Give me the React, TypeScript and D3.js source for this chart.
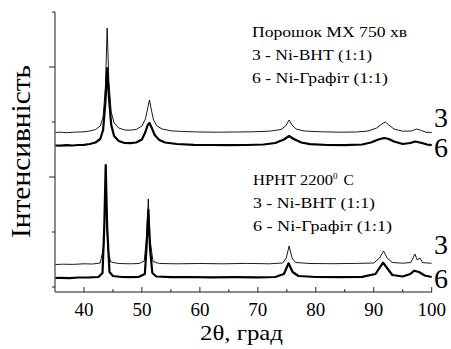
import { useEffect, useRef } from "react";
import * as d3 from "d3";

// x-axis (2θ) ticks
const xTicksMajor = [40, 50, 60, 70, 80, 90, 100];
const xTicksMinor = [45, 55, 65, 75, 85, 95];
// y ticks (arb. units, no labels)
const yTicksMajor = [1100, 2200];
const yTicksMinor = [0, 550, 1650, 2750];

// Порошок МХ 750 хв, 3 - Ni-ВНТ
const mx3 = [
  [35, 1545], [36, 1548], [37, 1543], [38, 1547], [39, 1550], [40, 1552], [41, 1560],
  [42, 1575], [42.8, 1610], [43.3, 1700], [43.7, 2000], [44.0, 2590], [44.3, 2050],
  [44.7, 1750], [45.2, 1640], [46, 1590], [47, 1570], [48, 1568], [49, 1575], [50, 1610],
  [50.6, 1680], [51.0, 1790], [51.3, 1870], [51.6, 1780], [52.0, 1670], [52.6, 1610],
  [53.5, 1580], [55, 1562], [57, 1555], [60, 1550], [63, 1548], [66, 1550], [69, 1552],
  [72, 1558], [74, 1575], [74.8, 1610], [75.4, 1670], [75.9, 1620], [76.6, 1580],
  [78, 1560], [81, 1552], [84, 1548], [87, 1550], [89, 1560], [90.5, 1590], [91.4, 1630],
  [92.0, 1650], [92.6, 1620], [93.5, 1580], [95, 1558], [96.5, 1560], [97.4, 1580],
  [98.2, 1565], [99, 1548], [100, 1545],
];
// Порошок МХ 750 хв, 6 - Ni-Графіт
const mx6 = [
  [35, 1415], [36, 1413], [37, 1418], [38, 1415], [39, 1420], [40, 1422], [41, 1430],
  [42, 1445], [42.8, 1480], [43.3, 1570], [43.7, 1850], [44.0, 2190], [44.3, 1900],
  [44.7, 1620], [45.2, 1510], [46, 1460], [47, 1440], [48, 1438], [49, 1445], [50, 1475],
  [50.6, 1550], [51.0, 1620], [51.3, 1640], [51.7, 1590], [52.2, 1520], [53, 1470],
  [54, 1445], [56, 1430], [59, 1422], [62, 1420], [65, 1418], [68, 1420], [71, 1425],
  [73, 1440], [74.5, 1475], [75.4, 1510], [76.2, 1480], [77.5, 1445], [79, 1428],
  [82, 1420], [85, 1418], [88, 1425], [89.5, 1445], [90.8, 1475], [91.8, 1490],
  [92.6, 1480], [93.5, 1455], [95, 1430], [96.3, 1440], [97.2, 1455], [98.3, 1440],
  [99.2, 1425], [100, 1418],
];
// HPHT 2200 C, 3 - Ni-ВНТ
const hp3 = [
  [35, 225], [36.5, 228], [38, 226], [40, 232], [41.5, 230], [42.8, 240], [43.4, 400],
  [43.75, 970], [44.1, 380], [44.6, 250], [46, 235], [48, 232], [49.5, 235], [50.4, 260],
  [50.8, 500], [51.1, 880], [51.4, 480], [51.9, 255], [53, 235], [56, 232], [60, 235],
  [64, 232], [68, 236], [72, 232], [74.3, 240], [74.9, 290], [75.4, 410], [75.9, 290],
  [76.5, 245], [79, 235], [83, 233], [87, 236], [90, 240], [91, 290], [91.7, 360],
  [92.3, 290], [93.2, 245], [95, 238], [96.4, 245], [97.1, 330], [97.5, 270], [98, 290],
  [98.4, 245], [99.2, 240], [100, 238],
];
// HPHT 2200 C, 6 - Ni-Графіт
const hp6 = [
  [35, 90], [36, 92], [37.5, 88], [39, 95], [41, 96], [42.5, 100], [43.2, 140],
  [43.5, 600], [43.75, 1220], [44.0, 600], [44.4, 150], [45, 110], [46.5, 100], [48, 98],
  [49.5, 102], [50.5, 130], [50.8, 400], [51.1, 770], [51.4, 380], [51.8, 140],
  [52.5, 105], [55, 98], [58, 100], [62, 96], [66, 99], [70, 97], [73, 100], [74.5, 130],
  [75.3, 237], [76.0, 150], [77, 110], [80, 100], [84, 98], [88, 102], [90.3, 130],
  [91.6, 243], [92.3, 190], [93.2, 120], [95, 105], [96.3, 130], [97.0, 163],
  [97.8, 150], [98.8, 115], [100, 100],
];

const series = [
  { data: mx3, width: 0.9, label: "3", labelY: 1600 },
  { data: mx6, width: 2.2, label: "6", labelY: 1300 },
  { data: hp3, width: 0.9, label: "3", labelY: 330 },
  { data: hp6, width: 2.2, label: "6", labelY: -10 },
];

const legendTop = ["Порошок МХ 750 хв", "3 - Ni-ВНТ (1:1)", "6 - Ni-Графіт (1:1)"];
const legendTopWidths = [155, 120, 136];
const legendBottom = ["3 - Ni-ВНТ (1:1)", "6 - Ni-Графіт (1:1)"];
const legendBottomWidths = [122, 139];

const FONT = "Liberation Serif";

export default function App() {
  const ref = useRef<SVGSVGElement>(null);

  useEffect(() => {
    document.body.style.margin = "0";
    const svg = d3.select(ref.current);
    svg.selectAll("*").remove();

    const x = d3.scaleLinear().domain([35, 100]).range([55, 431.7]);
    const y = d3.scaleLinear().domain([-50, 2750]).range([292, 12]);

    // curves
    const line = d3
      .line<number[]>()
      .x((d) => x(d[0]))
      .y((d) => y(d[1]));
    series.forEach((s) => {
      svg
        .append("path")
        .attr("d", line(s.data))
        .attr("fill", "none")
        .attr("stroke", "#000")
        .attr("stroke-width", s.width)
        .attr("stroke-linejoin", "round");
    });

    // axes lines
    svg.append("line").attr("x1", 55).attr("x2", 55).attr("y1", 12).attr("y2", 292)
      .attr("stroke", "#666").attr("stroke-width", 1.5);
    svg.append("line").attr("x1", 55).attr("x2", 432).attr("y1", 292).attr("y2", 292)
      .attr("stroke", "#666").attr("stroke-width", 1.5);

    // y ticks (outward)
    svg.selectAll(".ytM").data(yTicksMajor).enter().append("line")
      .attr("x1", 49).attr("x2", 55).attr("y1", (d) => y(d)).attr("y2", (d) => y(d))
      .attr("stroke", "#222").attr("stroke-width", 1);
    svg.selectAll(".ytm").data(yTicksMinor).enter().append("line")
      .attr("x1", 52).attr("x2", 55).attr("y1", (d) => y(d)).attr("y2", (d) => y(d))
      .attr("stroke", "#222").attr("stroke-width", 1);

    // x ticks (inward)
    svg.selectAll(".xtM").data(xTicksMajor).enter().append("line")
      .attr("x1", (d) => x(d)).attr("x2", (d) => x(d)).attr("y1", 292).attr("y2", 287)
      .attr("stroke", "#222").attr("stroke-width", 1);
    svg.selectAll(".xtm").data(xTicksMinor).enter().append("line")
      .attr("x1", (d) => x(d)).attr("x2", (d) => x(d)).attr("y1", 292).attr("y2", 289)
      .attr("stroke", "#222").attr("stroke-width", 1);

    const txt = (sel: any, size: number) =>
      sel.attr("font-family", FONT).attr("font-size", size).attr("fill", "#000");

    // tick labels
    txt(svg.selectAll(".xl").data(xTicksMajor).enter().append("text"), 19)
      .attr("x", (d: number) => x(d)).attr("y", 316)
      .attr("text-anchor", "middle")
      .text((d: number) => d);

    // axis titles
    txt(svg.append("text"), 22)
      .attr("x", 200).attr("y", 340)
      .attr("textLength", 83).attr("lengthAdjust", "spacingAndGlyphs")
      .text("2θ, град");
    txt(svg.append("text"), 28)
      .attr("transform", "translate(30,238) rotate(-90)")
      .attr("textLength", 173).attr("lengthAdjust", "spacingAndGlyphs")
      .text("Інтенсивність");

    // curve numbers
    txt(svg.selectAll(".cl").data(series).enter().append("text"), 28)
      .attr("x", 434).attr("y", (d: any) => y(d.labelY))
      .text((d: any) => d.label);

    // legends
    legendTop.forEach((t, i) => {
      txt(svg.append("text"), 15.5)
        .attr("x", 252).attr("y", 37 + i * 23)
        .attr("textLength", legendTopWidths[i]).attr("lengthAdjust", "spacingAndGlyphs")
        .text(t);
    });
    const hp = txt(svg.append("text"), 15.5).attr("x", 253).attr("y", 185);
    hp.append("tspan").attr("textLength", 80).attr("lengthAdjust", "spacingAndGlyphs").text("HPHT 2200");
    hp.append("tspan").attr("dy", -6).attr("font-size", 9).text("0");
    hp.append("tspan").attr("dy", 6).attr("dx", 2).text(" C");
    legendBottom.forEach((t, i) => {
      txt(svg.append("text"), 15.5)
        .attr("x", 253).attr("y", 208 + i * 23)
        .attr("textLength", legendBottomWidths[i]).attr("lengthAdjust", "spacingAndGlyphs")
        .text(t);
    });
  }, []);

  return <svg ref={ref} width={451} height={349} style={{ display: "block" }} />;
}
